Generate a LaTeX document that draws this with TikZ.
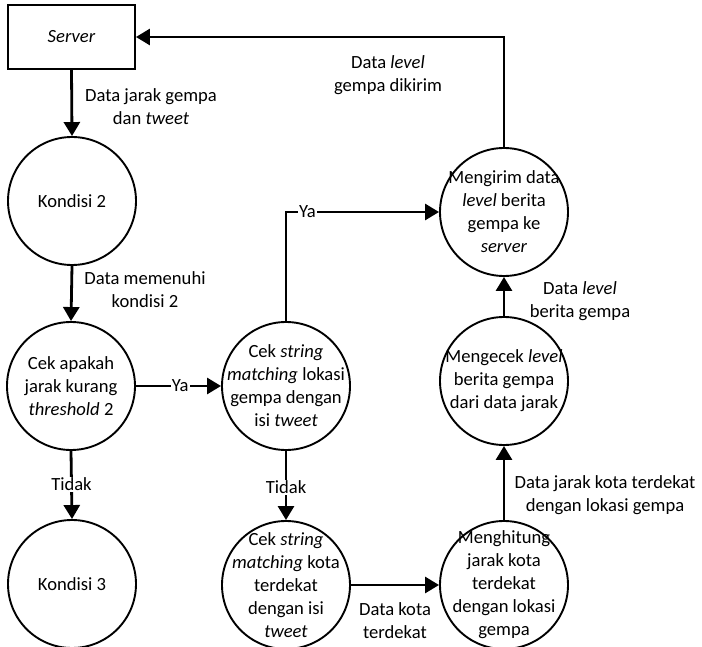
\documentclass[tikz,border=0pt]{standalone}
\usepackage{fontspec}
\setmainfont{Carlito}
\usetikzlibrary{arrows.meta}
\begin{document}
\begin{tikzpicture}[x=1pt,y=-1pt,
  font=\fontsize{18.6}{23}\selectfont,
  proc/.style={circle,draw,line width=1.9pt,minimum size=128pt,inner sep=0pt},
  ptext/.style={align=center,inner sep=0pt},
  ext/.style={rectangle,draw,line width=1.9pt,minimum width=127pt,minimum height=64pt,inner sep=0pt},
  flow/.style={line width=2.8pt,-{Triangle[length=14pt,width=16pt]}},
  lbl/.style={align=center,inner sep=0pt},
  onl/.style={fill=white,inner sep=1pt}]
\useasboundingbox (0,0) rectangle (702,647);

% external entity
\node[ext] (srv) at (71.5,37) {\textit{Server}};

% processes
\node[proc] (k2) at (72,201) {};
\node[ptext] at (k2) {Kondisi 2};
\node[proc] (thr) at (71,386) {};
\node[ptext] at (thr) {Cek apakah\\jarak kurang\\\textit{threshold} 2};
\node[proc] (k3) at (72,584) {};
\node[ptext] at (k3) {Kondisi 3};
\node[proc] (cl) at (286,386) {};
\node[ptext] at (cl) {Cek \textit{string}\\\textit{matching} lokasi\\gempa dengan\\isi \textit{tweet}};
\node[proc] (ck) at (286,585) {};
\node[ptext] at (ck) {Cek \textit{string}\\\textit{matching} kota\\terdekat\\dengan isi\\\textit{tweet}};
\node[proc] (hit) at (504,585) {};
\node[ptext] at (hit) {Menghitung\\jarak kota\\terdekat\\dengan lokasi\\gempa};
\node[proc] (cek) at (504,381) {};
\node[ptext] at (cek) {Mengecek \textit{level}\\berita gempa\\dari data jarak};
\node[proc] (send) at (504,212) {};
\node[ptext] at (send) {Mengirim data\\\textit{level} berita\\gempa ke\\\textit{server}};

% data flows
\draw[flow] (srv.south) -- (k2.north);
\node[lbl] at (151,107) {Data jarak gempa\\dan \textit{tweet}};

\draw[flow] (k2.south) -- (thr.north);
\node[lbl] at (145,290) {Data memenuhi\\kondisi 2};

\draw[flow] (thr.east) -- node[onl,pos=0.52] {Ya} (cl.west);

\draw[flow] (thr.south) -- node[onl,pos=0.49] {Tidak} (k3.north);

\draw[flow] (cl.north) |- node[onl,pos=0.57] {Ya} (send.west);

\draw[flow] (cl.south) -- node[onl,pos=0.53] {Tidak} (ck.north);

\draw[flow] (ck.east) -- (hit.west);
\node[lbl] at (395,621) {Data kota\\terdekat};

\draw[flow] (hit.north) -- (cek.south);
\node[lbl] at (605,495) {Data jarak kota terdekat\\dengan lokasi gempa};

\draw[flow] (cek.north) -- (send.south);
\node[lbl] at (580,301) {Data \textit{level}\\berita gempa};

\draw[flow] (send.north) |- (srv.east);
\node[lbl] at (388,75) {Data \textit{level}\\gempa dikirim};
\end{tikzpicture}
\end{document}
